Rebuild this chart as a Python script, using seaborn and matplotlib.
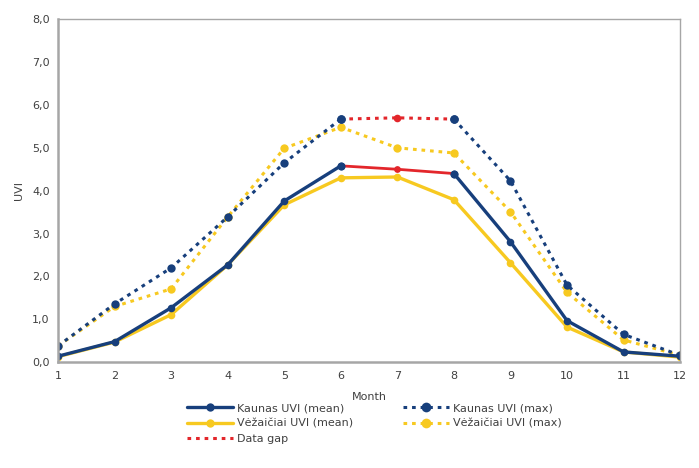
import matplotlib
matplotlib.use("Agg")
import matplotlib.pyplot as plt
from matplotlib.lines import Line2D
from matplotlib.ticker import FuncFormatter
import numpy as np
import pandas as pd
import seaborn as sns

months = list(range(1, 13))
kaunas_mean = [0.14, 0.48, 1.27, 2.27, 3.76, 4.58, 4.50, 4.40, 2.81, 0.97, 0.24, 0.14]
kaunas_max = [0.38, 1.36, 2.20, 3.39, 4.65, 5.67, 5.70, 5.67, 4.23, 1.80, 0.65, 0.16]
vez_mean = [0.13, 0.47, 1.11, 2.27, 3.67, 4.30, 4.32, 3.79, 2.32, 0.82, 0.24, 0.12]
vez_max = [0.38, 1.30, 1.71, 3.39, 4.99, 5.48, 5.00, 4.88, 3.51, 1.63, 0.52, 0.16]
gap_months = [6, 7, 8]  # Kaunas record missing in month 7

NAVY = "#173f7c"
YELLOW = "#f7c920"
RED = "#e3262b"
GREY = "#a6a6a6"

df = pd.DataFrame({
    "month": months,
    "k_mean": kaunas_mean,
    "k_max": kaunas_max,
    "v_mean": vez_mean,
    "v_max": vez_max,
})
before = df[df.month <= 6]
after = df[df.month >= 8]
gap = df[df.month.isin(gap_months)]
gap_mid = df[df.month == 7]

sns.set_theme(style="white")
plt.rcParams["font.family"] = ["DejaVu Sans"]

fig = plt.figure(figsize=(6.99, 4.68), dpi=100)
ax = fig.add_axes([0.083, 0.226, 0.890, 0.733])

dot = (1.2, 1.6)
mean_kw = dict(lw=2.4, marker="o", markersize=5.5, markeredgewidth=0)
max_kw = dict(lw=2.2, marker="o", markersize=6, markeredgewidth=0)

# Vėžaičiai series
sns.lineplot(data=df, x="month", y="v_max", ax=ax, color=YELLOW,
             dashes=False, linestyle=(0, dot), **max_kw)
sns.lineplot(data=df, x="month", y="v_mean", ax=ax, color=YELLOW, **mean_kw)

# Kaunas series, split around the missing month
for part in (before, after):
    sns.lineplot(data=part, x="month", y="k_max", ax=ax, color=NAVY,
                 linestyle=(0, dot), **max_kw)
    sns.lineplot(data=part, x="month", y="k_mean", ax=ax, color=NAVY, **mean_kw)

# Interpolated values across the data gap
sns.lineplot(data=gap, x="month", y="k_max", ax=ax, color=RED,
             linestyle=(0, dot), lw=2.2)
sns.lineplot(data=gap, x="month", y="k_mean", ax=ax, color=RED, lw=2.0)
sns.scatterplot(data=gap_mid, x="month", y="k_max", ax=ax, color=RED,
                s=30, linewidth=0, zorder=5)
sns.scatterplot(data=gap_mid, x="month", y="k_mean", ax=ax, color=RED,
                s=24, linewidth=0, zorder=5)
# Kaunas markers at the gap edges on top of the red segments
sns.scatterplot(data=df[df.month.isin([6, 8])], x="month", y="k_max", ax=ax,
                color=NAVY, s=38, linewidth=0, zorder=6)
sns.scatterplot(data=df[df.month.isin([6, 8])], x="month", y="k_mean", ax=ax,
                color=NAVY, s=34, linewidth=0, zorder=6)

ax.set_xlim(1, 12)
ax.set_ylim(0, 8)
ax.set_xticks(months)
ax.set_yticks(np.arange(0, 9, 1))
ax.yaxis.set_major_formatter(FuncFormatter(lambda v, p: f"{v:.1f}".replace(".", ",")))
ax.tick_params(axis="both", labelsize=8, colors="#404040", length=0, pad=6)
ax.set_xlabel("Month", fontsize=8, color="#404040", labelpad=8)
ax.set_ylabel("UVI", fontsize=8, color="#404040", labelpad=6)

for side, sp in ax.spines.items():
    sp.set_visible(True)
    sp.set_color(GREY)
    sp.set_linewidth(1.0)
ax.spines["left"].set_linewidth(1.8)
ax.spines["bottom"].set_linewidth(1.8)

handles = [
    Line2D([], [], color=NAVY, lw=2.4, marker="o", markersize=6, markeredgewidth=0),
    Line2D([], [], color=YELLOW, lw=2.4, marker="o", markersize=6, markeredgewidth=0),
    Line2D([], [], color=RED, lw=2.2, linestyle=(0, dot)),
    Line2D([], [], color=NAVY, lw=2.2, linestyle=(0, dot), marker="o", markersize=7, markeredgewidth=0),
    Line2D([], [], color=YELLOW, lw=2.2, linestyle=(0, dot), marker="o", markersize=7, markeredgewidth=0),
]
labels = [
    "Kaunas UVI (mean)",
    "Vėžaičiai UVI (mean)",
    "Data gap",
    "Kaunas UVI (max)",
    "Vėžaičiai UVI (max)",
]
fig.legend(handles, labels, loc="upper center", bbox_to_anchor=(0.535, 0.16),
           ncol=2, frameon=False, fontsize=8, handlelength=4.2,
           columnspacing=4.5, labelspacing=0.5, handletextpad=0.3,
           labelcolor="#404040")

fig.savefig("out.png", dpi=100)
